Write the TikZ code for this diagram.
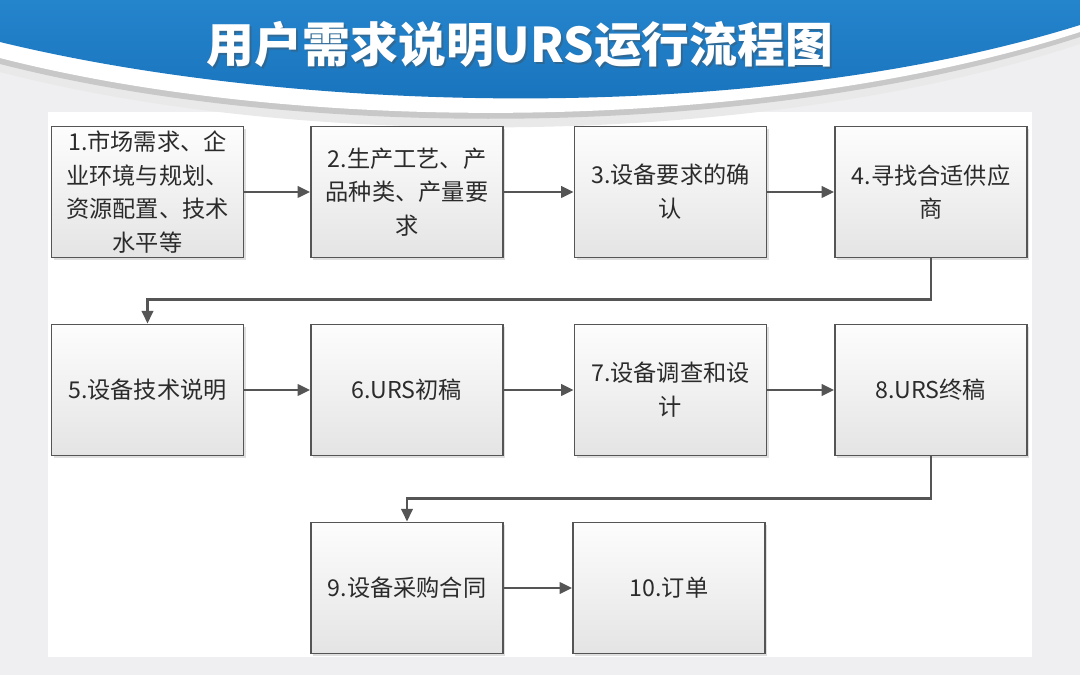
\documentclass[tikz,border=0pt]{standalone}
\usepackage{fontspec}
\setmainfont{Noto Sans CJK SC}
\usetikzlibrary{arrows.meta,positioning,shadows}
\definecolor{UrsBlue}{HTML}{2484CC}
\definecolor{UrsBlueDark}{HTML}{1670BA}
\definecolor{UrsInk}{HTML}{2B2B2B}
\definecolor{UrsLine}{HTML}{555555}
\definecolor{UrsGray}{HTML}{EFEFF1}
\definecolor{UrsShade}{HTML}{C8C8C8}
\definecolor{UrsFillTop}{HTML}{FDFDFD}
\definecolor{UrsFillBot}{HTML}{E4E4E4}
\tikzset{
  steptext/.style={font=\fontsize{16.5}{24}\selectfont, text=UrsInk},
  stepbox/.style={steptext, draw=UrsLine, line width=1.1pt, top color=UrsFillTop, bottom color=UrsFillBot,
    minimum width=4.8cm, minimum height=3.28cm, align=center, inner sep=2pt,
    drop shadow={shadow xshift=0.06cm, shadow yshift=-0.06cm, opacity=0.25}},
  flowarrow/.style={-{Triangle[length=9pt,width=8pt]}, line width=2.1pt, draw=UrsLine},
  titletext/.style={font=\bfseries\fontsize{34}{38}\selectfont, text=white}
}

\begin{document}
\begin{tikzpicture}[x=0.025cm, y=-0.025cm]
\useasboundingbox (0,0) rectangle (1080,675);
% page and panel
\fill[UrsGray] (0,0) rectangle (1080,675);
\fill[white] (48,112) rectangle (1032,657);
% header swoosh
\fill[UrsShade!40] (0,0) -- (0,72) .. controls (300,150) and (760,150) .. (1080,44) -- (1080,0) -- cycle;
\fill[UrsShade] (0,0) -- (0,64) .. controls (300,141) and (760,141) .. (1080,37) -- (1080,0) -- cycle;
\fill[white] (0,0) -- (0,58) .. controls (300,135) and (760,135) .. (1080,32) -- (1080,0) -- cycle;
\shade[top color=UrsBlue, bottom color=UrsBlueDark] (0,0) -- (0,42) .. controls (300,115) and (760,125) .. (1080,25) -- (1080,0) -- cycle;
\node[titletext, text=black!70, opacity=0.4] (titleshade) at (522,47) {用户需求说明URS运行流程图};
\node[titletext] (title) at (520,45) {用户需求说明URS运行流程图};
% steps
\node[stepbox] (s1) at (147.5,192) {1.市场需求、企\\业环境与规划、\\资源配置、技术\\水平等};
\node[stepbox] (s2) at (407,192) {2.生产工艺、产\\品种类、产量要\\求};
\node[stepbox] (s3) at (670.5,192) {3.设备要求的确\\认};
\node[stepbox] (s4) at (931,192) {4.寻找合适供应\\商};
\node[stepbox] (s5) at (147.5,390) {5.设备技术说明};
\node[stepbox] (s6) at (407,390) {6.URS初稿};
\node[stepbox] (s7) at (670.5,390) {7.设备调查和设\\计};
\node[stepbox] (s8) at (931,390) {8.URS终稿};
\node[stepbox] (s9) at (407,588) {9.设备采购合同};
\node[stepbox] (s10) at (669,588) {10.订单};
% connectors
\draw[flowarrow] (s1) -- (s2);
\draw[flowarrow] (s2) -- (s3);
\draw[flowarrow] (s3) -- (s4);
\draw[flowarrow] (s4.south) -- ++(0,41) -| (s5.north);
\draw[flowarrow] (s5) -- (s6);
\draw[flowarrow] (s6) -- (s7);
\draw[flowarrow] (s7) -- (s8);
\draw[flowarrow] (s8.south) -- ++(0,42) -| (s9.north);
\draw[flowarrow] (s9) -- (s10);
\end{tikzpicture}
\end{document}
